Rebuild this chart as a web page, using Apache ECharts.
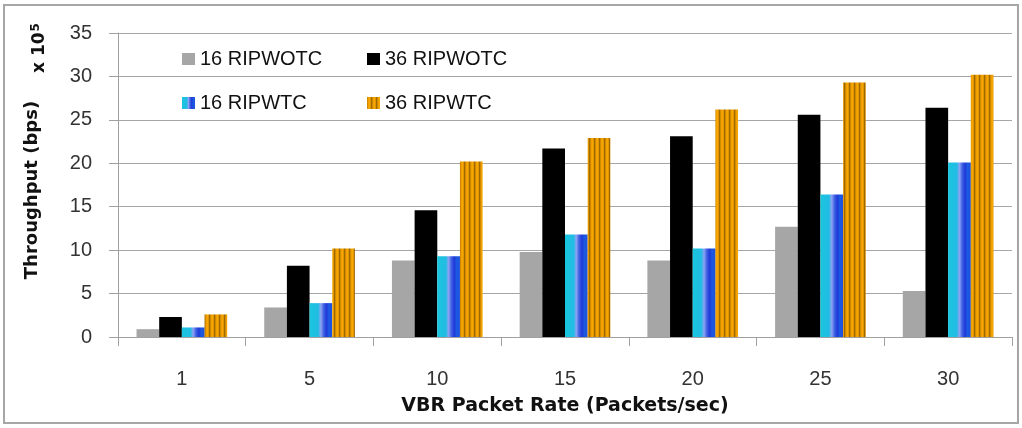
<!DOCTYPE html>
<html>
<head>
<meta charset="utf-8">
<title>Throughput vs VBR Packet Rate</title>
<script src="https://cdn.jsdelivr.net/npm/echarts@6/dist/echarts.min.js"></script>
<style>
  html, body { margin: 0; padding: 0; background: #fff; }
  #main { width: 1022px; height: 428px; }
</style>
</head>
<body>
<div id="main"></div>
<script>
// data (throughput in units of 10^5 bps)
const packetRates = ['1', '5', '10', '15', '20', '25', '30'];
const seriesNames = ['16 RIPWOTC', '36 RIPWOTC', '16 RIPWTC', '36 RIPWTC'];
const rip16WithoutTC = [0.9, 3.4, 8.8, 9.8, 8.8, 12.7, 5.3];
const rip36WithoutTC = [2.3, 8.2, 14.6, 21.7, 23.1, 25.6, 26.4];
const rip16WithTC = [1.1, 3.9, 9.3, 11.8, 10.2, 16.4, 20.1];
const rip36WithTC = [2.6, 10.2, 20.2, 22.9, 26.2, 29.3, 30.2];
const yTicks = { min: 0, max: 35, interval: 5 };

const chart = echarts.init(document.getElementById('main'));

// vertical orange/brown stripes for the 36 RIPWTC bars
function stripePattern() {
    const c = document.createElement('canvas');
    c.width = 5;
    c.height = 10;
    const ctx = c.getContext('2d');
    const cols = ['#d08a00', '#f09e00', '#f7a800', '#e09400', '#a06800'];
    cols.forEach((col, i) => {
        ctx.fillStyle = col;
        ctx.fillRect(i, 0, 1, 10);
    });
    return { image: c, repeat: 'repeat' };
}

// cyan -> lilac -> blue shading of the 16 RIPWTC bars
const blueShade = new echarts.graphic.LinearGradient(0, 0, 1, 0, [
    { offset: 0, color: '#19c6de' },
    { offset: 0.38, color: '#22bce4' },
    { offset: 0.5, color: '#8fa2f2' },
    { offset: 0.62, color: '#3f62e4' },
    { offset: 0.75, color: '#2038d8' },
    { offset: 0.85, color: '#1a5ae2' },
    { offset: 1, color: '#2050dc' }
]);

const barColors = ['#a6a6a6', '#000000', blueShade, stripePattern()];
const barData = [rip16WithoutTC, rip36WithoutTC, rip16WithTC, rip36WithTC];

const series = seriesNames.map((name, i) => ({
    name: name,
    type: 'bar',
    data: barData[i],
    barGap: '0%',
    barCategoryGap: '29%',
    itemStyle: { color: barColors[i] },
    animation: false
}));

// one legend per item so the two rows line up like the original
function legendAt(name, left, top) {
    return {
        data: [name],
        left: left,
        top: top,
        padding: 0,
        itemWidth: 13,
        itemHeight: 12,
        icon: 'rect',
        selectedMode: false,
        textStyle: { fontFamily: 'Liberation Sans', fontSize: 20, color: '#111' }
    };
}

const option = {
    backgroundColor: '#fff',
    animation: false,
    grid: { left: 118, right: 10, top: 33, bottom: 91 },
    legend: [
        legendAt('16 RIPWOTC', 182, 49),
        legendAt('36 RIPWOTC', 367, 49),
        legendAt('16 RIPWTC', 182, 93),
        legendAt('36 RIPWTC', 367, 93)
    ],
    xAxis: {
        type: 'category',
        data: packetRates,
        name: 'VBR Packet Rate (Packets/sec)',
        nameLocation: 'middle',
        nameGap: 60,
        nameTextStyle: { fontFamily: 'DejaVu Sans', fontWeight: 'bold', fontSize: 19, color: '#111' },
        axisLine: { lineStyle: { color: '#a0a0a0', width: 1 } },
        axisTick: { show: true, length: 9, lineStyle: { color: '#a0a0a0' } },
        axisLabel: { margin: 32, fontFamily: 'Liberation Sans', fontSize: 20, color: '#333' }
    },
    yAxis: {
        type: 'value',
        min: yTicks.min,
        max: yTicks.max,
        interval: yTicks.interval,
        axisLine: { show: true, lineStyle: { color: '#a0a0a0', width: 1 } },
        axisTick: { show: true, length: 9, lineStyle: { color: '#a0a0a0' } },
        splitLine: { lineStyle: { color: '#a6a6a6', width: 1 } },
        axisLabel: { margin: 26, fontFamily: 'Liberation Sans', fontSize: 20, color: '#333' }
    },
    graphic: [
        {
            type: 'rect',
            shape: { x: 4, y: 5, width: 1014, height: 418 },
            style: { fill: 'none', stroke: '#a6a6a6', lineWidth: 2 },
            silent: true
        },
        {
            type: 'text',
            x: 32,
            y: 190,
            rotation: Math.PI / 2,
            style: {
                text: 'Throughput (bps)',
                fontFamily: 'DejaVu Sans',
                fontWeight: 'bold',
                fontSize: 18,
                fill: '#111',
                align: 'center',
                verticalAlign: 'middle'
            }
        },
        {
            type: 'text',
            x: 40,
            y: 48,
            rotation: Math.PI / 2,
            style: {
                text: 'x 10{sup|5}',
                fontFamily: 'DejaVu Sans',
                fontWeight: 'bold',
                fontSize: 17,
                fill: '#111',
                align: 'center',
                verticalAlign: 'middle',
                rich: {
                    sup: { fontSize: 12, fontWeight: 'bold', fontFamily: 'DejaVu Sans', fill: '#111', verticalAlign: 'top', padding: [0, 0, 9, 1] }
                }
            }
        }
    ],
    series: series
};

chart.setOption(option);
</script>
</body>
</html>
